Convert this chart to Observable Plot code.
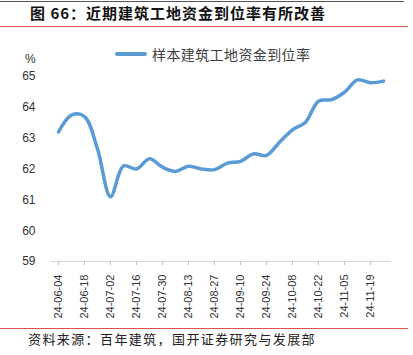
<!DOCTYPE html>
<html><head><meta charset="utf-8">
<script src="https://cdn.jsdelivr.net/npm/d3@7"></script>
<script src="https://cdn.jsdelivr.net/npm/@observablehq/plot@0.6"></script>
<style>
body{margin:0;background:#fff;}
#wrap{position:relative;width:413px;height:355px;overflow:hidden;font-family:"Noto Sans CJK SC",sans-serif;background:#fff;}
.topline{position:absolute;left:0;top:1px;width:404px;height:1px;background:#555;}
.redline{position:absolute;left:0;width:408px;height:1px;background:#d9534f;}
.title{position:absolute;left:30px;top:3px;font-size:15px;font-weight:bold;color:#111;letter-spacing:1px;white-space:nowrap;line-height:20px;}
.source{position:absolute;left:28px;top:330px;font-size:13px;color:#222;letter-spacing:1.4px;white-space:nowrap;line-height:18px;}
.unit{position:absolute;left:25px;top:52px;font-family:"Liberation Sans",sans-serif;font-size:12px;color:#333;}
.legend{position:absolute;left:115px;top:44px;display:flex;align-items:center;white-space:nowrap;}
.legend .sw{width:32px;height:4px;background:#5B9BD5;border-radius:2px;margin-right:5px;}
.legend span{font-size:14px;color:#404040;letter-spacing:0.4px;}
#chart{position:absolute;left:0;top:30px;}
</style></head><body>
<div id="wrap">
  <div class="topline"></div>
  <div class="title">图 66：近期建筑工地资金到位率有所改善</div>
  <div class="redline" style="top:26px"></div>
  <div id="chart"></div>
  <div class="unit">%</div>
  <div class="legend"><div class="sw"></div><span id="legtext"></span></div>
  <div class="redline" style="top:328px"></div>
  <div class="source">资料来源：百年建筑，国开证券研究与发展部</div>
</div>
<script>
const seriesName = "样本建筑工地资金到位率";
const dates = ["24-06-04","24-06-11","24-06-18","24-06-25","24-07-02","24-07-09","24-07-16","24-07-23","24-07-30","24-08-06","24-08-13","24-08-20","24-08-27","24-09-03","24-09-10","24-09-17","24-09-24","24-10-01","24-10-08","24-10-15","24-10-22","24-10-29","24-11-05","24-11-12","24-11-19","24-11-26"];
const values = [63.2,63.75,63.7,62.65,61.1,62.1,62.0,62.33,62.06,61.92,62.09,62.0,61.98,62.19,62.25,62.49,62.44,62.87,63.27,63.52,64.2,64.25,64.49,64.89,64.8,64.85];
const tickLabels = ["24-06-04","24-06-18","24-07-02","24-07-16","24-07-30","24-08-13","24-08-27","24-09-10","24-09-24","24-10-08","24-10-22","24-11-05","24-11-19"];
const yTicks = [59,60,61,62,63,64,65];

document.getElementById("legtext").textContent = seriesName;
const data = dates.map((d,i)=>({date:d, value:values[i]}));

const chart = Plot.plot({
  width: 413,
  height: 296,
  marginLeft: 50,
  marginRight: 22,
  marginTop: 46,
  marginBottom: 65,
  style: {background:"transparent", fontFamily:"Liberation Sans, sans-serif", fontSize:"12px", color:"#333"},
  x: {type:"point", domain: dates, padding: 0},
  y: {domain:[59,65]},
  marks: [
    Plot.ruleY([59], {stroke:"#d9d9d9", strokeWidth:1.2}),
    Plot.axisY({ticks: yTicks, tickSize:0, tickPadding:15, label:null, fontSize:12, fill:"#333", tickFormat: d=>String(d)}),
    Plot.axisX({ticks: tickLabels, tickSize:4, tickPadding:9, tickRotate:-90, label:null, fontSize:11, stroke:"#bfbfbf", fill:"#333", tickFormat: d=>d}),
    Plot.line(data, {x:"date", y:"value", stroke:"#5B9BD5", strokeWidth:3.5, curve:"catmull-rom", strokeLinecap:"round"})
  ]
});
document.getElementById("chart").appendChild(chart);
</script>
</body></html>
